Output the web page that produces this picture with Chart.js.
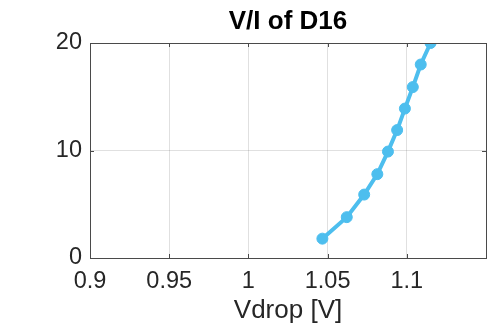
<!DOCTYPE html>
<html><head><meta charset="utf-8">
<script src="https://cdn.jsdelivr.net/npm/chart.js@4/dist/chart.umd.min.js"></script>
<style>html,body{margin:0;padding:0;background:#fff}#wrap{width:494px;height:331px}</style>
</head><body><div id="wrap"><canvas id="c" width="494" height="331"></canvas></div>
<script>
const vdrop = [1.0467, 1.0621, 1.0731, 1.0814, 1.0881, 1.0939, 1.0988, 1.1038, 1.1088, 1.115];
const current = [1.8, 3.8, 5.9, 7.8, 9.9, 11.9, 13.9, 15.9, 18.0, 20.0];
const xTickLabels = ['0.9', '0.95', '1', '1.05', '1.1'];
const yTickLabels = ['0', '10', '20'];
const titleText = 'V/I of D16';
const xLabel = 'Vdrop [V]';

const FONT = 'Liberation Sans, Arial, Helvetica, sans-serif';
const AX = '#262626';

const boxPlugin = {
  id: 'box',
  afterDatasetsDraw(chart) {
    const {ctx, chartArea: a, scales} = chart;
    ctx.save();
    ctx.strokeStyle = '#4a4a4a'; ctx.lineWidth = 1;
    const tl = 4;
    ctx.beginPath();
    scales.x.ticks.forEach(t => {
      const px = Math.round(scales.x.getPixelForValue(t.value)) + 0.5;
      ctx.moveTo(px, a.bottom); ctx.lineTo(px, a.bottom - tl);
      ctx.moveTo(px, a.top); ctx.lineTo(px, a.top + tl);
    });
    scales.y.ticks.forEach(t => {
      const py = Math.round(scales.y.getPixelForValue(t.value)) + 0.5;
      ctx.moveTo(a.left, py); ctx.lineTo(a.left + tl, py);
      ctx.moveTo(a.right, py); ctx.lineTo(a.right - tl, py);
    });
    ctx.stroke();
    ctx.strokeRect(Math.round(a.left) + 0.5, Math.round(a.top) + 0.5, Math.round(a.right - a.left), Math.round(a.bottom - a.top));
    ctx.restore();
  }
};

new Chart(document.getElementById('c'), {
  type: 'scatter',
  data: {
    datasets: [{
      data: vdrop.map((v, i) => ({x: v, y: current[i]})),
      showLine: true,
      borderColor: '#4DBEEE',
      backgroundColor: '#4DBEEE',
      borderWidth: 4,
      pointRadius: 5.5,
      pointBorderWidth: 1,
      pointBorderColor: '#4DBEEE',
      tension: 0
    }]
  },
  options: {
    responsive: false,
    animation: false,
    devicePixelRatio: 1,
    layout: {padding: {left: 0, right: 8, top: 0, bottom: 0}},
    plugins: {
      legend: {display: false},
      tooltip: {enabled: false},
      title: {
        display: true, text: titleText, color: '#000', fullSize: false,
        font: {family: FONT, size: 26, weight: 'bold'},
        padding: {top: 6.4, bottom: 5.4}
      }
    },
    scales: {
      x: {
        type: 'linear', min: 0.9, max: 1.15,
        border: {display: false},
        grid: {color: 'rgba(38,38,38,0.14)', drawTicks: false},
        afterBuildTicks(s) { s.ticks = xTickLabels.map(v => ({value: parseFloat(v)})); },
        ticks: {
          color: AX, padding: 9,
          font: {family: FONT, size: 23.5},
          callback: (v) => xTickLabels.find(l => Math.abs(parseFloat(l) - v) < 1e-9) || ''
        },
        title: {display: true, text: xLabel, color: AX, font: {family: FONT, size: 26}, padding: {top: 0, bottom: 5}},
        afterFit(s) { s.height = 73; }
      },
      y: {
        type: 'linear', min: 0, max: 20,
        border: {display: false},
        grid: {color: 'rgba(38,38,38,0.14)', drawTicks: false},
        afterBuildTicks(s) { s.ticks = yTickLabels.map(v => ({value: parseFloat(v)})); },
        ticks: {
          color: AX, padding: 8,
          font: {family: FONT, size: 23.5},
          callback: (v) => yTickLabels.find(l => parseFloat(l) === v) || ''
        },
        afterFit(s) { s.width = 90; }
      }
    }
  },
  plugins: [boxPlugin]
});
</script></body></html>
